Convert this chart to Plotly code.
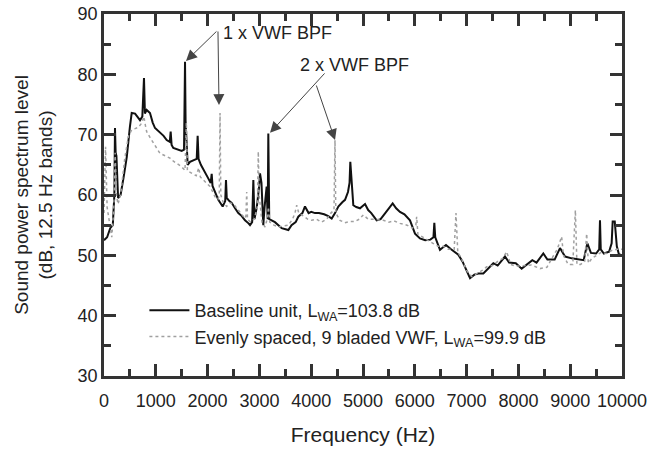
import plotly.graph_objects as go

# Baseline unit (solid)
base_freq = [0, 60, 120, 170, 200, 212, 225, 240, 272, 320, 380, 440, 500, 535, 600, 650, 695, 740, 772, 790,
             824, 888, 940, 985, 1081, 1150, 1210, 1270, 1287, 1305, 1338, 1420, 1500, 1545, 1564, 1575, 1590, 1615,
             1660, 1725, 1790, 1808, 1825, 1870, 1950, 2010, 2060, 2079, 2095, 2150, 2207, 2291, 2340, 2355, 2370,
             2420, 2465, 2530, 2593, 2660, 2722, 2790, 2819, 2860, 2883, 2905, 2950, 2990, 3012, 3040, 3075, 3100,
             3140, 3160, 3172, 3190, 3230, 3300, 3430, 3500, 3559, 3620, 3700, 3751, 3830, 3880, 3950, 4000, 4073,
             4150, 4250, 4330, 4396, 4460, 4524, 4600, 4653, 4710, 4740, 4755, 4782, 4813, 4870, 4942, 5039, 5100,
             5160, 5264, 5340, 5425, 5500, 5573, 5640, 5714, 5800, 5907, 6004, 6100, 6200, 6300, 6360, 6377, 6395,
             6422, 6486, 6540, 6602, 6700, 6840, 6920, 7000, 7066, 7150, 7230, 7323, 7420, 7516, 7600, 7741, 7820,
             7950, 8063, 8150, 8269, 8350, 8481, 8560, 8700, 8803, 8900, 9029, 9150, 9260, 9331, 9400, 9500, 9560,
             9575, 9590, 9650, 9750, 9800, 9820, 9860, 9900, 9940, 10000]
base_level = [52.5, 53, 54.5, 55, 60, 71.1, 67, 66.5, 59.5, 60, 63, 66.3, 71.3, 73.6, 73.5, 73, 72.4, 73, 79.4, 73.5,
              74.1, 73.6, 72, 71.1, 70.4, 69.8, 69.1, 68.8, 70.5, 68.3, 67.8, 67.5, 67.3, 67.5, 82.1, 72.3, 70, 65,
              65.5, 65.8, 66, 69.8, 66, 65, 63.6, 62.8, 62, 63.5, 61.5, 60.5, 59.2, 58.1, 59, 62.5, 59.5,
              59, 58.7, 57.8, 57, 56.5, 55.8, 55.3, 55, 55.5, 62.5, 56, 58, 61, 63.6, 62, 55, 58,
              61.4, 56, 70.2, 56, 55.8, 55.5, 54.5, 54.3, 54.2, 55, 55.5, 56.4, 57, 58.1, 57, 57.2, 57,
              57, 56.8, 56.5, 56.1, 57, 58.1, 58.8, 59.2, 60.5, 62, 65.5, 61.4, 58.3, 58, 57.8, 58.5, 57.5,
              57, 55.8, 56, 57, 57.8, 58.6, 57.8, 57.2, 56.8, 55.8, 53.6, 52.8, 52.5, 52.6, 53, 55.4, 53,
              52.3, 50.9, 51.3, 51.7, 51, 50.1, 49, 47.5, 46.2, 46.8, 47, 47, 47.8, 48.7, 48.3, 49.8, 48.8,
              48.7, 47.8, 48.4, 49.2, 48.8, 50.3, 49.3, 49.3, 51.2, 49.8, 49.5, 49.4, 49.2, 52, 50.4, 50.3, 51,
              55.8, 51, 50.3, 50.6, 52, 55.6, 55.6, 51.5, 50.2, 50]

# Evenly spaced, 9 bladed VWF (dotted)
vwf_freq = [0, 30, 60, 100, 150, 190, 215, 240, 270, 320, 400, 470, 535, 600, 660, 727, 770, 800, 824, 890,
            952, 1020, 1081, 1180, 1274, 1340, 1403, 1480, 1564, 1590, 1610, 1693, 1780, 1830, 1860, 1917, 1980,
            2046, 2100, 2143, 2200, 2225, 2240, 2255, 2300, 2368, 2430, 2500, 2593, 2680, 2722, 2740, 2755, 2770,
            2830, 2900, 2960, 2979, 2995, 3050, 3108, 3150, 3175, 3200, 3280, 3365, 3450, 3559, 3640, 3687, 3720,
            3760, 3850, 3930, 4010, 4100, 4200, 4300, 4380, 4440, 4459, 4475, 4556, 4650, 4750, 4845, 4930, 5006,
            5100, 5200, 5392, 5500, 5600, 5714, 5850, 5950, 6020, 6036, 6060, 6150, 6250, 6350, 6450, 6550, 6650,
            6760, 6795, 6830, 6900, 7000, 7098, 7200, 7300, 7388, 7500, 7600, 7700, 7774, 7850, 7950, 8100, 8250,
            8417, 8550, 8680, 8750, 8835, 8870, 8960, 9050, 9100, 9130, 9200, 9280, 9318, 9350, 9420, 9500, 9600,
            9700, 9800, 9900, 10000]
vwf_level = [57, 68, 58, 56, 53, 58, 67, 60, 58.5, 60, 66, 69.7, 70.8, 71, 71.2, 71.9, 73, 71.5, 70.5, 69.5,
             68.6, 67.6, 66.9, 66.5, 66.1, 65.6, 65.2, 64.8, 64.1, 72, 64, 63.6, 63.2, 64.5, 63, 62.5, 62,
             61.4, 60.5, 59.7, 59.3, 60, 73.6, 60, 58.8, 58.1, 58.7, 58.5, 57.5, 56.5, 56.1, 56.5, 60.5, 56,
             55.5, 56, 58, 67.2, 60, 55.5, 54.7, 56, 58, 55.5, 55, 54.7, 54.8, 55, 56, 57, 58.3,
             57, 56.5, 56, 55.8, 56, 55.5, 56, 57, 57.5, 69.1, 57, 55.8, 55.4, 55.6, 55.6, 56, 56.7,
             56, 56, 55.8, 55.5, 55.7, 55.3, 55, 54.5, 55, 56.4, 53.5, 53, 52.5, 52, 51.5, 51.5, 51,
             51, 57, 50.5, 49.5, 47.5, 46.5, 47, 47.5, 48.1, 48.3, 49, 49.5, 50.6, 48.5, 48.2, 48.3, 48.4,
             47.8, 48, 50, 51, 53.1, 50, 48.5, 48.5, 57.5, 48.5, 48.5, 49, 53.6, 48.7, 49.5, 50, 50.5,
             50.3, 50.8, 51, 51]

x_ticks = [0, 1000, 2000, 3000, 4000, 5000, 6000, 7000, 8000, 9000, 10000]
y_ticks = [30, 40, 50, 60, 70, 80, 90]

FONT = "Liberation Sans, Arial, Helvetica, sans-serif"
TXT = "#222222"
AX = "#333333"

fig = go.Figure()
fig.add_trace(go.Scatter(
    x=base_freq, y=base_level, mode="lines",
    name="Baseline unit, L<sub>WA</sub>=103.8 dB",
    line=dict(color="#111111", width=2),
))
fig.add_trace(go.Scatter(
    x=vwf_freq, y=vwf_level, mode="lines",
    name="Evenly spaced, 9 bladed VWF, L<sub>WA</sub>=99.9 dB",
    line=dict(color="#a0a0a0", width=1.5, dash="dot"),
))

# Annotation labels
fig.add_annotation(x=3340, y=86.85, text="1 x VWF BPF", showarrow=False,
                   font=dict(size=18, color=TXT, family=FONT), xanchor="center", yanchor="middle")
fig.add_annotation(x=4845, y=81.5, text="2 x VWF BPF", showarrow=False,
                   font=dict(size=18, color=TXT, family=FONT), xanchor="center", yanchor="middle")

arrows = [
    (1583, 82.2, 2200, 87.35),
    (2220, 74.9, 2200, 87.35),
    (3205, 70.3, 4285, 80.4),
    (4460, 69.1, 4090, 78.4),
]
for (tx, ty, sx, sy) in arrows:
    fig.add_annotation(x=tx, y=ty, ax=sx, ay=sy, axref="x", ayref="y", xref="x", yref="y",
                       text="", showarrow=True, arrowhead=2, arrowsize=2.2, arrowwidth=1,
                       arrowcolor="#444444", standoff=0, startstandoff=0)

axis_common = dict(
    showline=True, linecolor=AX, linewidth=2.5, mirror="allticks",
    ticks="inside", tickcolor=AX, tickwidth=2.5, ticklen=12,
    showgrid=False, zeroline=False,
    tickfont=dict(size=18, color=TXT, family=FONT),
    ticklabeloverflow="allow",
)

fig.update_xaxes(
    range=[0, 10000], tickvals=x_ticks, ticktext=[str(v) for v in x_ticks],
    ticklabelstandoff=7,
    minor=dict(dtick=500, ticks="inside", ticklen=7, tickwidth=2.5, tickcolor=AX, showgrid=False),
    title=dict(text="Frequency (Hz)", font=dict(size=21, color=TXT, family=FONT), standoff=17),
    **axis_common,
)
fig.update_yaxes(
    range=[30, 90], tickvals=y_ticks, ticktext=[str(v) for v in y_ticks],
    minor=dict(dtick=5, ticks="inside", ticklen=7, tickwidth=2.5, tickcolor=AX, showgrid=False),
    title=dict(text="Sound power spectrum level<br>(dB, 12.5 Hz bands)",
               font=dict(size=19, color=TXT, family=FONT), standoff=20),
    **axis_common,
)

fig.update_layout(
    width=653, height=451,
    margin=dict(l=104, r=31, t=14, b=75, autoexpand=False),
    paper_bgcolor="white", plot_bgcolor="white",
    font=dict(family=FONT, size=18, color=TXT),
    showlegend=True,
    legend=dict(x=0.078, y=0.232, xanchor="left", yanchor="top",
                bgcolor="rgba(0,0,0,0)", font=dict(size=18, color=TXT, family=FONT),
                tracegroupgap=0, itemwidth=40),
)

fig.write_html("out.html", config={"displayModeBar": False},
               post_script="document.body.style.margin='0';document.body.style.padding='0';")
